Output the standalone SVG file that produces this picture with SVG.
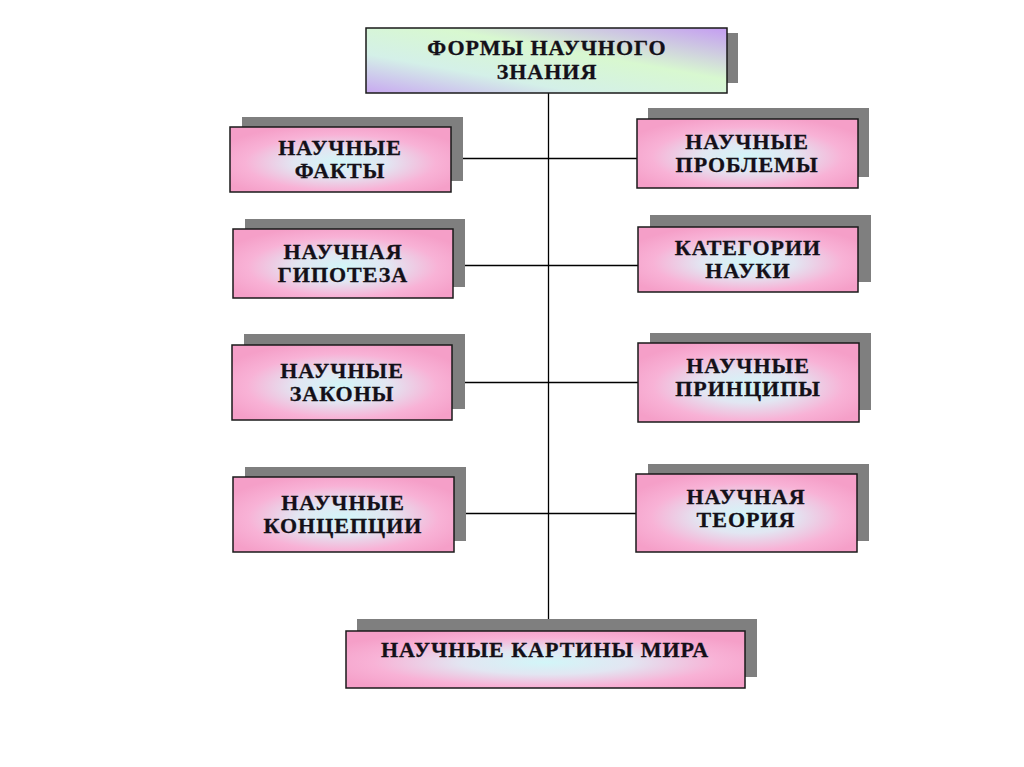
<svg xmlns="http://www.w3.org/2000/svg" width="1024" height="767" viewBox="0 0 1024 767">
<defs>
<radialGradient id="pink" cx="0.5" cy="0.55" r="0.6">
<stop offset="0" stop-color="#d2f6f8"/>
<stop offset="0.35" stop-color="#e2e6f2"/>
<stop offset="0.72" stop-color="#f8b2d6"/>
<stop offset="1" stop-color="#f59fc8"/>
</radialGradient>
<linearGradient id="top" x1="0" y1="1" x2="1" y2="0">
<stop offset="0" stop-color="#c8a8f0"/>
<stop offset="0.3" stop-color="#d4f0e8"/>
<stop offset="0.6" stop-color="#d8f8d0"/>
<stop offset="1" stop-color="#c49cf2"/>
</linearGradient>
<style>
.sh{fill:#7f7f7f}
.bx{fill:url(#pink);stroke:#1a1a1a;stroke-width:1.5}
.tp{fill:url(#top);stroke:#1a1a1a;stroke-width:1.5}
text{font-family:"Liberation Serif","Times New Roman",serif;font-weight:bold;font-size:22px;fill:#141018;stroke:#141018;stroke-width:0.3;text-anchor:middle;letter-spacing:1px}
.ln{stroke:#000;stroke-width:1.3;fill:none}
</style>
</defs>
<rect width="1024" height="767" fill="#fff"/>
<g id="connectors">
<line class="ln" x1="548.5" y1="93" x2="548.5" y2="631"/>
<line class="ln" x1="451" y1="158.5" x2="637" y2="158.5"/>
<line class="ln" x1="453" y1="265.5" x2="638" y2="265.5"/>
<line class="ln" x1="452" y1="382.5" x2="638" y2="382.5"/>
<line class="ln" x1="454" y1="513.5" x2="636" y2="513.5"/>
</g>
<g id="n-top">
<rect class="sh" x="378" y="33" width="360" height="50"/>
<rect class="tp" x="366" y="28" width="361" height="65"/>
<text x="547" y="55">ФОРМЫ НАУЧНОГО</text>
<text x="547" y="79">ЗНАНИЯ</text>
</g>
<g id="n-facts">
<rect class="sh" x="242" y="117" width="221" height="64"/>
<rect class="bx" x="230" y="127" width="221" height="65"/>
<text x="340" y="155">НАУЧНЫЕ</text>
<text x="340" y="178">ФАКТЫ</text>
</g>
<g id="n-hyp">
<rect class="sh" x="245" y="219" width="220" height="68"/>
<rect class="bx" x="233" y="229" width="220" height="69"/>
<text x="343" y="259">НАУЧНАЯ</text>
<text x="343" y="282">ГИПОТЕЗА</text>
</g>
<g id="n-laws">
<rect class="sh" x="244" y="334" width="221" height="75"/>
<rect class="bx" x="232" y="345" width="220" height="75"/>
<text x="342" y="378">НАУЧНЫЕ</text>
<text x="342" y="401">ЗАКОНЫ</text>
</g>
<g id="n-conc">
<rect class="sh" x="245" y="467" width="221" height="74"/>
<rect class="bx" x="233" y="477" width="221" height="75"/>
<text x="343" y="510">НАУЧНЫЕ</text>
<text x="343" y="533">КОНЦЕПЦИИ</text>
</g>
<g id="n-prob">
<rect class="sh" x="648" y="108" width="221" height="69"/>
<rect class="bx" x="637" y="119" width="221" height="69"/>
<text x="747" y="149">НАУЧНЫЕ</text>
<text x="747" y="172">ПРОБЛЕМЫ</text>
</g>
<g id="n-cat">
<rect class="sh" x="650" y="215" width="221" height="67"/>
<rect class="bx" x="638" y="227" width="220" height="65"/>
<text x="748" y="255">КАТЕГОРИИ</text>
<text x="748" y="278">НАУКИ</text>
</g>
<g id="n-princ">
<rect class="sh" x="650" y="333" width="221" height="77"/>
<rect class="bx" x="638" y="343" width="221" height="79"/>
<text x="748" y="373">НАУЧНЫЕ</text>
<text x="748" y="396">ПРИНЦИПЫ</text>
</g>
<g id="n-theory">
<rect class="sh" x="648" y="464" width="221" height="77"/>
<rect class="bx" x="636" y="474" width="221" height="78"/>
<text x="746" y="504">НАУЧНАЯ</text>
<text x="746" y="527">ТЕОРИЯ</text>
</g>
<g id="n-world">
<rect class="sh" x="357" y="619" width="400" height="58"/>
<rect class="bx" x="346" y="631" width="399" height="57"/>
<text x="545" y="657">НАУЧНЫЕ КАРТИНЫ МИРА</text>
</g>
</svg>
